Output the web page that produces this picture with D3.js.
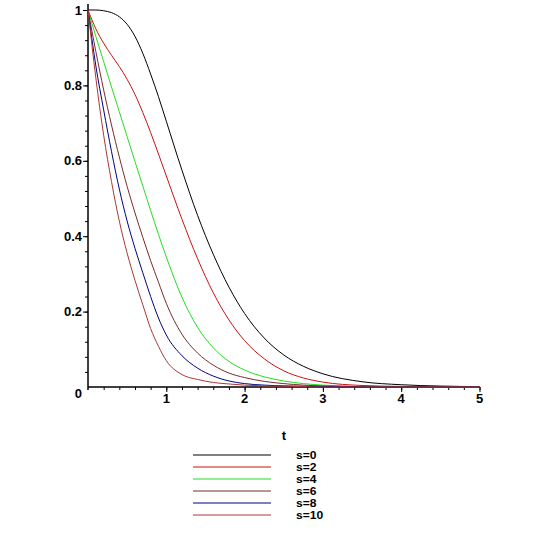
<!DOCTYPE html>
<html>
<head>
<meta charset="utf-8">
<script src="https://cdn.jsdelivr.net/npm/d3@7"></script>
<style>
  body { margin: 0; background: #fff; }
  svg { display: block; }
  text { font-family: "Liberation Sans", Arial, sans-serif; font-weight: bold; fill: #000; }
</style>
</head>
<body>
<script>
const width = 548;
const height = 548;

// sample points along t
const tValues = [0, 0.1, 0.2, 0.3, 0.4, 0.5, 0.6, 0.7, 0.8, 0.9, 1.0, 1.2, 1.4, 1.6, 1.8, 2.0, 2.25, 2.5, 2.75, 3.0, 3.5, 4.0, 4.5, 5.0];

const s0 = [1, 1.0, 0.998, 0.993, 0.982, 0.962, 0.93, 0.885, 0.83, 0.77, 0.705, 0.575, 0.455, 0.352, 0.265, 0.195, 0.13, 0.085, 0.055, 0.035, 0.014, 0.006, 0.0025, 0.001];
const s2 = [1, 0.95, 0.912, 0.88, 0.85, 0.816, 0.776, 0.728, 0.675, 0.618, 0.56, 0.445, 0.34, 0.25, 0.178, 0.123, 0.075, 0.043, 0.024, 0.013, 0.004, 0.0015, 0.0005, 0];
const s4 = [1, 0.93, 0.863, 0.796, 0.73, 0.664, 0.598, 0.533, 0.468, 0.405, 0.345, 0.238, 0.158, 0.104, 0.068, 0.045, 0.027, 0.016, 0.009, 0.005, 0.0015, 0.0005, 0, 0];
const s6 = [1, 0.89, 0.788, 0.695, 0.61, 0.532, 0.462, 0.397, 0.335, 0.278, 0.222, 0.14, 0.09, 0.058, 0.037, 0.025, 0.015, 0.009, 0.005, 0.003, 0.001, 0, 0, 0];
const s8 = [1, 0.852, 0.735, 0.625, 0.525, 0.44, 0.368, 0.303, 0.24, 0.183, 0.138, 0.083, 0.05, 0.029, 0.016, 0.009, 0.005, 0.003, 0.002, 0.001, 0, 0, 0, 0];
const s10 = [1, 0.82, 0.668, 0.545, 0.44, 0.355, 0.283, 0.218, 0.155, 0.108, 0.07, 0.033, 0.02, 0.012, 0.008, 0.005, 0.003, 0.002, 0.001, 0, 0, 0, 0, 0];

const seriesNames = ["s=0", "s=2", "s=4", "s=6", "s=8", "s=10"];
const seriesValues = [s0, s2, s4, s6, s8, s10];
const seriesColors = ["#000000", "#cc1111", "#22dd22", "#7a2a2a", "#00007f", "#a83838"];

const yTickLabels = ["0.2", "0.4", "0.6", "0.8", "1"];
const xTickLabels = ["1", "2", "3", "4", "5"];

const x = d3.scaleLinear().domain([0, 5]).range([88, 479.5]);
const y = d3.scaleLinear().domain([0, 1]).range([387, 10]);

const svg = d3.select("body").append("svg")
  .attr("width", width)
  .attr("height", height);

// axes
const xAxis = svg.append("g").attr("transform", `translate(0,${y(0)})`);
xAxis.call(d3.axisBottom(x).tickValues(d3.range(0.2, 5.01, 0.2)).tickSize(3).tickFormat(""));
xAxis.append("g").call(d3.axisBottom(x).tickValues(d3.range(1, 6, 1)).tickSize(5).tickFormat(""));
xAxis.selectAll(".domain").attr("d", `M${x(0)},0H${x(5)}`);

const yAxis = svg.append("g").attr("transform", `translate(${x(0)},0)`);
yAxis.call(d3.axisLeft(y).tickValues(d3.range(0.04, 1.001, 0.04)).tickSize(3).tickFormat(""));
yAxis.append("g").call(d3.axisLeft(y).tickValues(d3.range(0.2, 1.01, 0.2)).tickSize(5).tickFormat(""));
yAxis.selectAll(".domain").attr("d", `M0,4V${y(0) + 3}`);

svg.selectAll(".tick line, .domain").attr("stroke", "#000").attr("stroke-width", 1);

// tick labels
svg.append("g").selectAll("text")
  .data(yTickLabels)
  .join("text")
  .attr("x", 82)
  .attr("y", d => y(+d))
  .attr("dy", "0.36em")
  .attr("text-anchor", "end")
  .attr("font-size", 13)
  .text(d => d);

svg.append("g").selectAll("text")
  .data(xTickLabels)
  .join("text")
  .attr("x", d => x(+d))
  .attr("y", 403)
  .attr("text-anchor", "middle")
  .attr("font-size", 13)
  .text(d => d);

svg.append("text")
  .attr("x", 82)
  .attr("y", 398)
  .attr("text-anchor", "end")
  .attr("font-size", 13)
  .text("0");

svg.append("text")
  .attr("x", 284)
  .attr("y", 440)
  .attr("text-anchor", "middle")
  .attr("font-size", 13)
  .text("t");

// curves
const line = d3.line()
  .x((d, i) => x(tValues[i]))
  .y(d => y(d))
  .curve(d3.curveMonotoneX);

svg.append("g")
  .attr("fill", "none")
  .attr("stroke-width", 1)
  .selectAll("path")
  .data(seriesValues)
  .join("path")
  .attr("stroke", (d, i) => seriesColors[i])
  .attr("d", line);

// legend
const legend = svg.append("g")
  .selectAll("g")
  .data(seriesNames)
  .join("g")
  .attr("transform", (d, i) => `translate(0,${455 + i * 12})`);

legend.append("line")
  .attr("x1", 193)
  .attr("x2", 271)
  .attr("stroke", (d, i) => seriesColors[i])
  .attr("stroke-width", 1);

legend.append("text")
  .attr("x", 296)
  .attr("y", 4)
  .attr("font-size", 10.5)
  .attr("transform", "translate(296,0) scale(1.15,1) translate(-296,0)")
  .text(d => d);
</script>
</body>
</html>
